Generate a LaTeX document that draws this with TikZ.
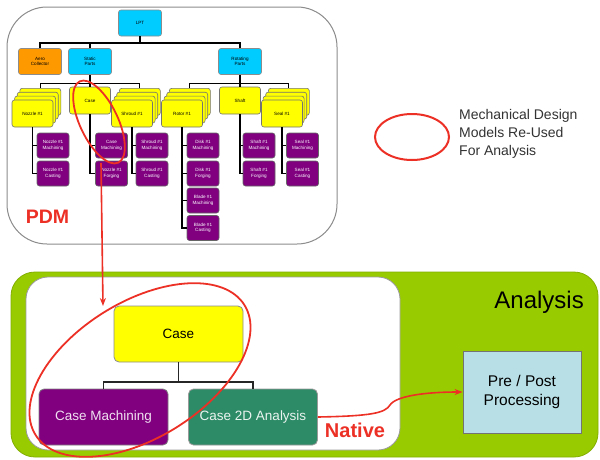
\documentclass[tikz,border=0pt]{standalone}
\usepackage{fontspec}
\setmainfont{Liberation Sans}
\usetikzlibrary{arrows.meta,shapes.geometric}
\definecolor{cyanbox}{RGB}{0,204,255}
\definecolor{orangebox}{RGB}{255,153,0}
\definecolor{yellowbox}{RGB}{255,255,0}
\definecolor{purplebox}{RGB}{128,0,128}
\definecolor{tealbox}{RGB}{46,139,104}
\definecolor{limegreen}{RGB}{153,204,0}
\definecolor{lightcyan}{RGB}{184,223,230}
\definecolor{redline}{RGB}{236,48,38}
\definecolor{legendtext}{RGB}{51,51,51}
\begin{document}
\begin{tikzpicture}[x=1pt,y=-1pt,
  every node/.style={inner sep=0pt, align=center},
  conn/.style={draw=black, line width=1.2pt},
  bigconn/.style={draw=black!85, line width=1.5pt},
  tiny/.style={font=\fontsize{4.6}{5.4}\selectfont},
  cbox/.style={draw=black!45, fill=cyanbox, rounded corners=2.5pt, line width=0.6pt,
    minimum width=43pt, minimum height=26pt, tiny},
  obox/.style={cbox, fill=orangebox},
  ybox/.style={draw=black!55, fill=yellowbox, rounded corners=2.5pt, line width=0.6pt,
    minimum width=41pt, minimum height=27pt, tiny},
  pbox/.style={draw=black!60, fill=purplebox, rounded corners=2.5pt, line width=0.6pt,
    minimum width=32pt, minimum height=25pt, tiny, text=white},
  redl/.style={draw=redline, line width=1.6pt},
  redarrow/.style={redl, -{Stealth[length=8pt,width=6pt]}},
  bigbox/.style={rounded corners=5pt, line width=0.8pt, minimum width=129pt, minimum height=56pt,
    font=\fontsize{13.5}{16}\selectfont}
]
\useasboundingbox (0,0) rectangle (600,459);
\fill[white] (0,0) rectangle (600,459);

% ---------- PDM product structure ----------
\draw[draw=black!45, line width=1pt, rounded corners=40pt, fill=white] (7,7) rectangle (337,244);

\node[cbox] (lpt) at (140,23) {LPT};
\node[obox] (aero) at (40,61.5) {Aero\\Collector};
\node[cbox] (stat) at (90,61.5) {Static\\Parts};
\node[cbox] (rot) at (240,61.5) {Rotating\\Parts};

% stacked part families
\foreach \k in {3,2,1} {
  \node[ybox] (noz\k) at ({32.5+2.6*\k},{113.5-3.9*\k}) {};
  \node[ybox] (shr\k) at ({132+2.6*\k},{113.5-3.9*\k}) {};
  \node[ybox] (rtr\k) at ({182+2.6*\k},{113.5-3.9*\k}) {};
  \node[ybox] (sea\k) at ({281+2.6*\k},{113.5-3.9*\k}) {};
}
\node[ybox] (noz) at (32.5,113.5) {Nozzle \#1};
\node[ybox] (case) at (90,100.5) {Case};
\node[ybox] (shr) at (132,113.5) {Shroud \#1};
\node[ybox] (rtr) at (182,113.5) {Rotor \#1};
\node[ybox] (sft) at (240,100.5) {Shaft};
\node[ybox] (sea) at (282,113.5) {Seal \#1};

% manufacturing models
\node[pbox] (nozM) at (53,145.5) {Nozzle \#1\\Machining};
\node[pbox] (nozC) at (53,173.5) {Nozzle \#1\\Casting};
\node[pbox] (casM) at (111.5,145.5) {Case\\Machining};
\node[pbox] (casF) at (111.5,173.5) {Nozzle \#1\\Forging};
\node[pbox] (shrM) at (152,145.5) {Shroud \#1\\Machining};
\node[pbox] (shrC) at (152,173.5) {Shroud \#1\\Casting};
\node[pbox] (dskM) at (203,145.5) {Disk \#1\\Machining};
\node[pbox] (dskF) at (203,173.5) {Disk \#1\\Forging};
\node[pbox] (bldM) at (203,200.5) {Blade \#1\\Machining};
\node[pbox] (bldC) at (203,228) {Blade \#1\\Casting};
\node[pbox] (sftM) at (259,145.5) {Shaft \#1\\Machining};
\node[pbox] (sftF) at (259,173.5) {Shaft \#1\\Forging};
\node[pbox] (seaM) at (302.5,145.5) {Seal \#1\\Machining};
\node[pbox] (seaC) at (302.5,173.5) {Seal \#1\\Casting};

% tree connectors
\coordinate (topbus) at (140,43);
\coordinate (sbus) at (90,83.5);
\draw[conn] (lpt.south) -- (lpt.south |- topbus);
\draw[conn] (aero.north) |- (rot.north |- topbus) -- (rot.north);
\draw[conn] (stat.north) -- (stat.north |- topbus);
\draw[conn] (stat.south) -- (stat.south |- sbus);
\draw[conn] (noz3.north) |- (shr3.north |- sbus) -- (shr3.north);
\draw[conn] (case.north) -- (case.north |- sbus);
\draw[conn] (rot.south) -- (rot.south |- sbus);
\draw[conn] (rtr3.north) |- (sea3.north |- sbus) -- (sea3.north);
\draw[conn] (sft.north) -- (sft.north |- sbus);

\draw[conn] (noz.south) |- (nozM.west);
\draw[conn] (noz.south) |- (nozC.west);
\draw[conn] (case.south) |- (casM.west);
\draw[conn] (case.south) |- (casF.west);
\draw[conn] (shr.south) |- (shrM.west);
\draw[conn] (shr.south) |- (shrC.west);
\draw[conn] (rtr.south) |- (dskM.west);
\draw[conn] (rtr.south) |- (dskF.west);
\draw[conn] (rtr.south) |- (bldM.west);
\draw[conn] (rtr.south) |- (bldC.west);
\draw[conn] (sft.south) |- (sftM.west);
\draw[conn] (sft.south) |- (sftF.west);
\draw[conn] (sea.south) |- (seaM.west);
\draw[conn] (sea.south) |- (seaC.west);

\node[text=redline, font=\fontsize{19.5}{22}\selectfont\bfseries] (pdm) at (47.5,216.5) {PDM};

% ---------- legend ----------
\draw[redl, line width=2pt] (412,137) ellipse [x radius=37, y radius=23];
\node[anchor=north west, align=left, text=legendtext, font=\fontsize{14}{18}\selectfont]
  (legend) at (459,109.5) {Mechanical Design\\Models Re-Used\\For Analysis};

% ---------- Analysis environment ----------
\draw[draw=limegreen!85!black, fill=limegreen, line width=0.8pt, rounded corners=24pt]
  (11,272) rectangle (598,457);
\draw[draw=black!40, fill=white, line width=0.8pt, rounded corners=22pt]
  (26,277) rectangle (400,450);
\node[anchor=base east, font=\fontsize{24}{28}\selectfont] (ana) at (584,308) {Analysis};

\node[bigbox, draw=black!45, fill=yellowbox] (bcase) at (178.5,334) {Case};
\node[bigbox, draw=black!50, fill=purplebox, text=white!88!purplebox] (cm) at (103.5,417) {Case Machining};
\node[bigbox, draw=black!40, fill=tealbox, text=white!90!tealbox] (c2d) at (253,417) {Case 2D Analysis};
\coordinate (bbus) at (178.5,382);
\draw[bigconn] (bcase.south) -- (bcase.south |- bbus);
\draw[bigconn] (cm.north) |- (c2d.north |- bbus) -- (c2d.north);

\node[text=redline, font=\fontsize{20}{24}\selectfont\bfseries] (native) at (355,430) {Native};

\node[draw=black!55, fill=lightcyan, line width=0.8pt, minimum width=118pt, minimum height=82pt,
  font=\fontsize{15.5}{19}\selectfont] (pp) at (522,392) {Pre / Post\\Processing};

\draw[redarrow] (c2d.east) .. controls (372,416) and (385,413) .. (390,405)
  .. controls (396,396) and (425,392) .. (pp.west);

% ---------- re-use highlights ----------
\draw[redl, line width=1.8pt, rotate around={-64.6:(99,122)}] (99,122) ellipse [x radius=45, y radius=19];
\draw[redl, line width=1.8pt, rotate around={31.8:(140,370)}] (140,370) ellipse [x radius=123, y radius=68];
\coordinate (ellA) at (101,163);
\coordinate (ellB) at (103,306);
\draw[redarrow] (ellA) -- (ellB);
\end{tikzpicture}
\end{document}
